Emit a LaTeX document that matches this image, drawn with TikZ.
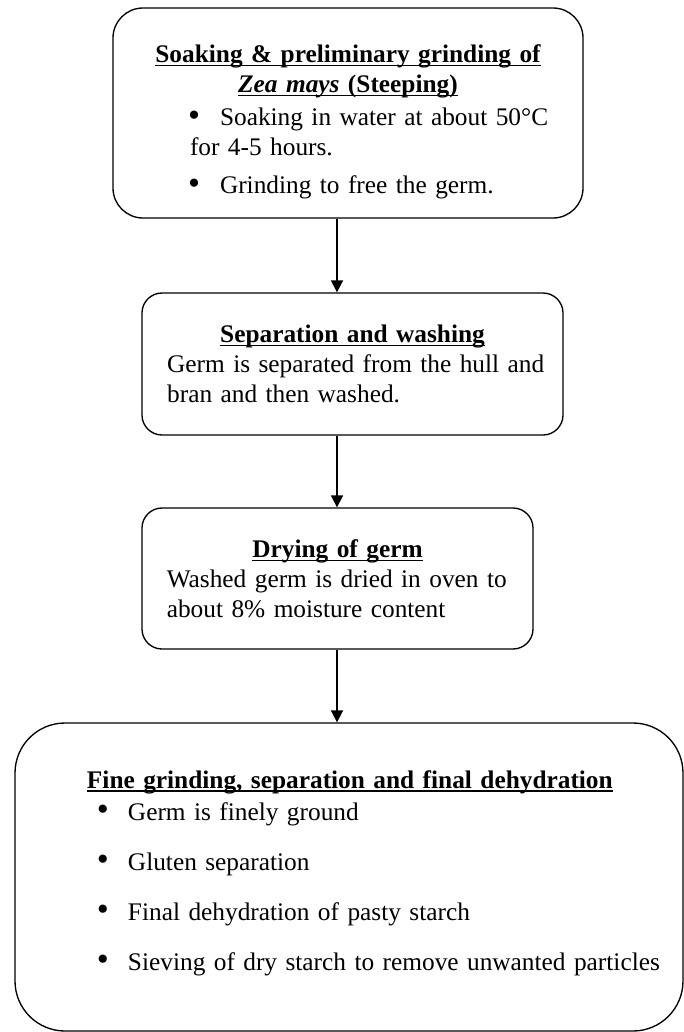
\documentclass[tikz,border=0pt]{standalone}
\usepackage{fontspec}
\setmainfont{Liberation Serif}
\usetikzlibrary{arrows.meta}
\newcommand{\headline}[1]{\leavevmode\setbox0\hbox{\bfseries #1}\rlap{\rule[-2.6pt]{\wd0}{0.9pt}}\box0}
\newcommand{\bigdot}{\raisebox{-0.6pt}{\scalebox{1.35}{\textbullet}}}
\newcommand{\dotitem}{\hspace*{7.5pt}\makebox[23.25pt][l]{\bigdot}}

\begin{document}
\begin{tikzpicture}[x=0.75pt,y=-0.75pt,
stage/.style={draw,line width=1pt,rounded corners=15pt,inner sep=0pt,
text=black,font=\fontsize{19}{22.5}\selectfont},
flow/.style={-{Triangle[width=9pt,length=9pt]},line width=1.3pt}]
\useasboundingbox (0,0) rectangle (684,1032);
\coordinate (axis) at (337,0);

% steeping
\node[stage,rounded corners=22.5pt,minimum width=352.5pt,minimum height=157.5pt,
text width=310.5pt] (soak) at (348,113)
{{\centering\rule{0pt}{27pt}\headline{Soaking \& preliminary grinding of}\\
\headline{\textit{Zea mays} (Steeping)}\par}\vspace{2.25pt}
\raggedright\leftskip=36.75pt\rightskip=-30pt plus 1fil
\hspace*{-1.5pt}\makebox[24pt][l]{\bigdot}Soaking in water at about 50°C\\
for 4-5 hours.\\[6pt]
\hspace*{-1.5pt}\makebox[24pt][l]{\bigdot}Grinding to free the germ.\par};

% washing
\node[stage,minimum width=315.75pt,minimum height=106.5pt,
text width=278pt] (wash) at (352.5,364)
{{\centering\headline{Separation and washing}\par}
\raggedright\rightskip=-30pt plus 1fil
Germ is separated from the hull and\\
bran and then washed.\par};

% drying
\node[stage,minimum width=293.25pt,minimum height=105.75pt,
text width=256pt] (dry) at (337.5,578.5)
{{\centering\headline{Drying of germ}\par}
\raggedright\rightskip=-30pt plus 1fil
Washed germ is dried in oven to\\
about 8\% moisture content\par};

% final steps
\node[stage,rounded corners=37.5pt,minimum width=501pt,minimum height=231pt,
text width=471pt] (fine) at (349,877)
{\raggedright\leftskip=39pt\rightskip=-30pt plus 1fil
\headline{Fine grinding, separation and final dehydration}\\[1.5pt]
\dotitem Germ is finely ground\\[15pt]
\dotitem Gluten separation\\[15pt]
\dotitem Final dehydration of pasty starch\\[15pt]
\dotitem Sieving of dry starch to remove unwanted particles\rule[-10.2pt]{0pt}{0pt}\par};

\draw[flow] (soak.south -| axis) -- (wash.north -| axis);
\draw[flow] (wash.south -| axis) -- (dry.north -| axis);
\draw[flow] (dry.south -| axis) -- (fine.north -| axis);
\end{tikzpicture}
\end{document}
